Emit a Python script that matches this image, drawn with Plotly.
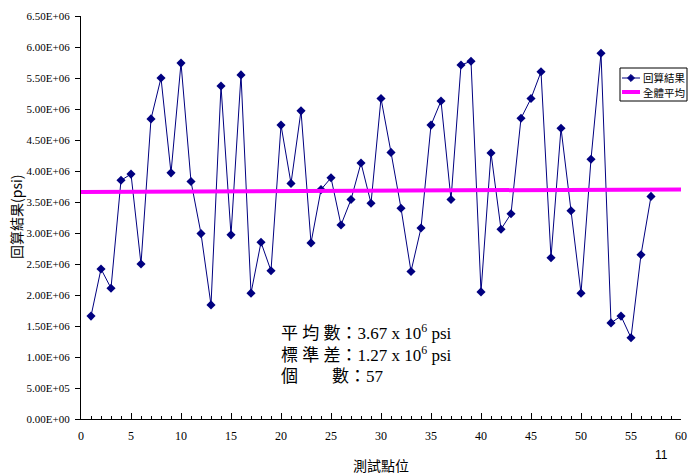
import plotly.graph_objects as go

points = list(range(1, 58))
values = [1.66, 2.42, 2.11, 3.85, 3.95, 2.50, 4.84, 5.50, 3.97, 5.74,
          3.83, 2.99, 1.84, 5.37, 2.97, 5.55, 2.03, 2.85, 2.39, 4.74,
          3.80, 4.97, 2.84, 3.70, 3.89, 3.13, 3.54, 4.13, 3.48, 5.17,
          4.30, 3.40, 2.38, 3.08, 4.74, 5.13, 3.54, 5.71, 5.77, 2.05,
          4.29, 3.06, 3.31, 4.85, 5.17, 5.60, 2.60, 4.69, 3.36, 2.03,
          4.19, 5.90, 1.55, 1.66, 1.31, 2.65, 3.59]
values = [v * 1e6 for v in values]
mean_x = [0, 60]
mean_y = [3.663e6, 3.703e6]
series_names = ["回算結果", "全體平均"]
ytick_vals = [i * 0.5e6 for i in range(14)]
ytick_text = ["0.00E+00" if v == 0 else ("%.2fE+05" % (v / 1e5) if v < 1e6 else "%.2fE+06" % (v / 1e6))
              for v in ytick_vals]

serif = "Liberation Serif, Times New Roman, serif"
cjk = "Noto Sans CJK TC, sans-serif"
navy = "#000080"
magenta = "#FF00FF"

fig = go.Figure()
fig.add_trace(go.Scatter(x=points, y=values, mode="lines+markers", name=series_names[0],
                         line=dict(color=navy, width=1),
                         marker=dict(symbol="diamond", size=7, color=navy)))
fig.add_trace(go.Scatter(x=mean_x, y=mean_y, mode="lines", name=series_names[1],
                         line=dict(color=magenta, width=4)))

L, R, T, B = 81, 7, 16, 57
W, H = 688, 476
PW, PH = W - L - R, H - T - B


def px(x):
    return (x - L) / PW


def py(y):
    return (H - B - y) / PH


fig.update_layout(
    width=W, height=H,
    margin=dict(l=L, r=R, t=T, b=B, autoexpand=False),
    paper_bgcolor="white", plot_bgcolor="white",
    showlegend=False,
    font=dict(family=serif, color="black"),
)
fig.update_xaxes(range=[0, 60], dtick=5, tick0=0, showgrid=False, zeroline=False,
                 showline=True, linecolor="black", linewidth=1,
                 ticks="inside", ticklen=6, tickcolor="black",
                 minor=dict(dtick=1, ticks="inside", ticklen=3, tickcolor="black"),
                 tickfont=dict(family=serif, size=12, color="black"),
                 ticklabelstandoff=6,
                 title=dict(text="測試點位", font=dict(family=cjk, size=14, color="black"), standoff=18))
fig.update_yaxes(range=[0, 6.5e6], tickvals=ytick_vals, ticktext=ytick_text,
                 showgrid=False, zeroline=False, showline=True, linecolor="black", linewidth=1,
                 ticks="outside", ticklen=5, tickcolor="black",
                 tickfont=dict(family=serif, size=11, color="black"),
                 ticklabelstandoff=3)

# y-axis title
fig.add_annotation(text="回算結果(psi)", xref="paper", yref="paper", x=px(16), y=py(217),
                   xanchor="center", yanchor="middle", textangle=-90, showarrow=False,
                   font=dict(family=cjk, size=14, color="black"))

# manual legend box
fig.add_shape(type="rect", xref="paper", yref="paper", x0=px(620), x1=px(687), y0=py(101), y1=py(68),
              line=dict(color="black", width=1), fillcolor="white", layer="above")
fig.add_shape(type="line", xref="paper", yref="paper", x0=px(622), x1=px(640), y0=py(78), y1=py(78),
              line=dict(color=navy, width=1), layer="above")
fig.add_shape(type="path", xref="paper", yref="paper", layer="above",
              path="M %f %f L %f %f L %f %f L %f %f Z" % (px(631), py(74.5), px(634.5), py(78),
                                                         px(631), py(81.5), px(627.5), py(78)),
              fillcolor=navy, line=dict(color=navy, width=1))
fig.add_shape(type="line", xref="paper", yref="paper", x0=px(622), x1=px(640), y0=py(92), y1=py(92),
              line=dict(color=magenta, width=4), layer="above")
for i, name in enumerate(series_names):
    fig.add_annotation(text=name, xref="paper", yref="paper", x=px(641), y=py(77.5 + 15 * i),
                       xanchor="left", yanchor="middle", showarrow=False,
                       font=dict(family=cjk, size=10.5, color="black"))

ann_font = dict(family="Liberation Serif, Noto Sans CJK TC, serif", size=17, color="black")
lines = ["平&nbsp;均&nbsp;數：3.67 x 10<sup>6</sup> psi",
         "標&nbsp;準&nbsp;差：1.27 x 10<sup>6</sup> psi",
         "個&nbsp;&nbsp;&nbsp;&nbsp;&nbsp;&nbsp;&nbsp;&nbsp;數：57"]
for i, t in enumerate(lines):
    fig.add_annotation(text=t, xref="paper", yref="paper", x=px(279),
                       y=py(332 + i * 22), xanchor="left", yanchor="middle",
                       showarrow=False, font=ann_font)
fig.add_annotation(text="11", xref="paper", yref="paper", x=px(670), y=py(455),
                   xanchor="right", yanchor="middle", showarrow=False,
                   font=dict(family="Liberation Sans, Arial, sans-serif", size=12, color="black"))

fig.write_html("out.html", config={"displayModeBar": False})
with open("out.html", encoding="utf-8") as f:
    html = f.read()
html = html.replace("<head>", "<head><style>html,body{margin:0;padding:0;overflow:hidden;}</style>", 1)
with open("out.html", "w", encoding="utf-8") as f:
    f.write(html)
